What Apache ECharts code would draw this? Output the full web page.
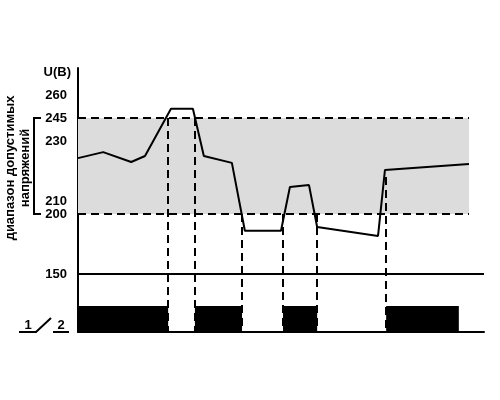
<!DOCTYPE html>
<html>
<head>
<meta charset="utf-8">
<script src="https://cdn.jsdelivr.net/npm/echarts@6/dist/echarts.min.js"></script>
<style>html,body{margin:0;padding:0;background:#fff}#c{width:500px;height:400px}</style>
</head>
<body>
<div id="c"></div>
<script>
// ---- data (time in arbitrary units 0..100, voltage in V) ----
const curveTimes = [0, 6.2, 13.1, 16.5, 22.9, 28.3, 31.0, 37.9, 41.1, 50.0, 52.2, 56.9, 58.9, 73.9, 75.6, 96.3];
const curveVolts = [224.3, 226.3, 223, 225, 251, 251, 225, 222.7, 186, 186, 214.7, 215.3, 189.2, 181.7, 220.3, 222.3];
const tickVolts = [150, 200, 210, 230, 245, 260];
const rangeLow = 200, rangeHigh = 245, lowLimit = 150;
const bandEnd = 96.3;
const switchTimes = [22.2, 28.8, 40.4, 50.5, 58.9, 75.9];
const switchFrom  = [245, 245, 200, 200, 200, 218];
const relayTimes  = [0, 22.2, 28.8, 40.4, 50.5, 58.9, 75.9, 93.8, 100];
const relayState  = [1, 0, 1, 0, 1, 0, 1, 0, 0];
const yAxisTitle = 'U(B)';
const rangeLabel = ['диапазон допустимых', 'напряжений'];

// schematic (non-linear) voltage scale: voltage anchors -> axis level
const scaleV = [150, 200, 210, 230, 245, 260];
const scaleL = [58, 118, 131, 191, 214, 237];
function lvl(v){
  for (let i=0;i<scaleV.length-1;i++){
    if (v<=scaleV[i+1] || i===scaleV.length-2){
      const f=(v-scaleV[i])/(scaleV[i+1]-scaleV[i]);
      return scaleL[i]+f*(scaleL[i+1]-scaleL[i]);
    }
  }
}
function volt(l){
  for (let i=0;i<scaleL.length;i++) if (Math.abs(scaleL[i]-l)<1e-6) return scaleV[i];
  return '';
}

const font = '"Liberation Sans", Arial, sans-serif';
const dash = {color:'#000', width:2, type:[8,5]};

const chart = echarts.init(document.getElementById('c'), null, {renderer:'canvas'});
const mainData = curveTimes.map((t,i)=>[t, lvl(curveVolts[i])]);
const vLines = switchTimes.map((t,i)=>[{coord:[t, lvl(switchFrom[i])], lineStyle:dash},{coord:[t,0]}]);

chart.setOption({
  animation:false,
  grid:[
    {left:78, right:16, top:68, bottom:68},
    {left:78, right:16, top:306, bottom:68}
  ],
  xAxis:[
    {type:'value', gridIndex:0, min:0, max:100, axisLine:{show:true, onZero:false, lineStyle:{color:'#000', width:2}},
     axisTick:{show:false}, axisLabel:{show:false}, splitLine:{show:false}},
    {type:'value', gridIndex:1, min:0, max:100, show:false}
  ],
  yAxis:[
    {type:'value', gridIndex:0, min:0, max:264,
     axisLine:{show:true, lineStyle:{color:'#000', width:2}},
     axisTick:{show:false},
     splitLine:{show:false},
     axisLabel:{show:true, customValues:tickVolts.map(lvl), formatter:(v)=>String(volt(v)),
       color:'#000', fontFamily:font, fontWeight:'bold', fontSize:13, margin:11}},
    {type:'value', gridIndex:1, min:0, max:1, show:false}
  ],
  series:[
    {type:'line', xAxisIndex:0, yAxisIndex:0, data:mainData, symbol:'none', z:5,
     lineStyle:{color:'#000', width:2},
     markArea:{silent:true, itemStyle:{color:'#dcdcdc'}, z:1,
       data:[[{coord:[0, lvl(rangeLow)]},{coord:[bandEnd, lvl(rangeHigh)]}]]},
     markLine:{silent:true, symbol:'none', label:{show:false}, animation:false,
       lineStyle:dash,
       data:[
         [{coord:[0, lvl(rangeHigh)]},{coord:[bandEnd, lvl(rangeHigh)]}],
         [{coord:[0, lvl(rangeLow)]},{coord:[bandEnd, lvl(rangeLow)]}],
         [{coord:[0, lvl(lowLimit)], lineStyle:{type:'solid', width:2, color:'#000'}},{coord:[100, lvl(lowLimit)]}]
       ].concat(vLines)}
    },
    {type:'line', xAxisIndex:1, yAxisIndex:1, step:'end', symbol:'none', z:6,
     data:relayTimes.map((t,i)=>[t, relayState[i]]),
     lineStyle:{width:0}, areaStyle:{color:'#000', opacity:1}}
  ]
});

// decorations: title, rotated label, bracket, contact symbol
const yHi = chart.convertToPixel({gridIndex:0}, [0, lvl(rangeHigh)])[1];
const yLo = chart.convertToPixel({gridIndex:0}, [0, lvl(rangeLow)])[1];
const yMid = (yHi + yLo)/2;
const tf = {fontFamily:font, fontWeight:'bold', fontSize:13, fill:'#000'};
chart.setOption({
  graphic:[
    {type:'text', x:71, y:72, style:Object.assign({text:yAxisTitle, align:'right', verticalAlign:'middle'}, tf)},
    {type:'text', x:10, y:yMid+2, rotation:Math.PI/2, style:Object.assign({text:rangeLabel[0], align:'center', verticalAlign:'middle'}, tf)},
    {type:'text', x:25, y:yMid+2, rotation:Math.PI/2, style:Object.assign({text:rangeLabel[1], align:'center', verticalAlign:'middle'}, tf)},
    {type:'polyline', shape:{points:[[41,yHi],[34,yHi],[34,yLo],[41,yLo]]}, style:{stroke:'#000', lineWidth:2, fill:null}},
    {type:'text', x:28, y:325, style:Object.assign({text:'1', align:'center', verticalAlign:'middle'}, tf)},
    {type:'text', x:61, y:325, style:Object.assign({text:'2', align:'center', verticalAlign:'middle'}, tf)},
    {type:'polyline', shape:{points:[[19,332],[36,332],[51,318]]}, style:{stroke:'#000', lineWidth:2, fill:null}},
    {type:'line', shape:{x1:53, y1:332, x2:69, y2:332}, style:{stroke:'#000', lineWidth:2}}
  ]
});
</script>
</body>
</html>
